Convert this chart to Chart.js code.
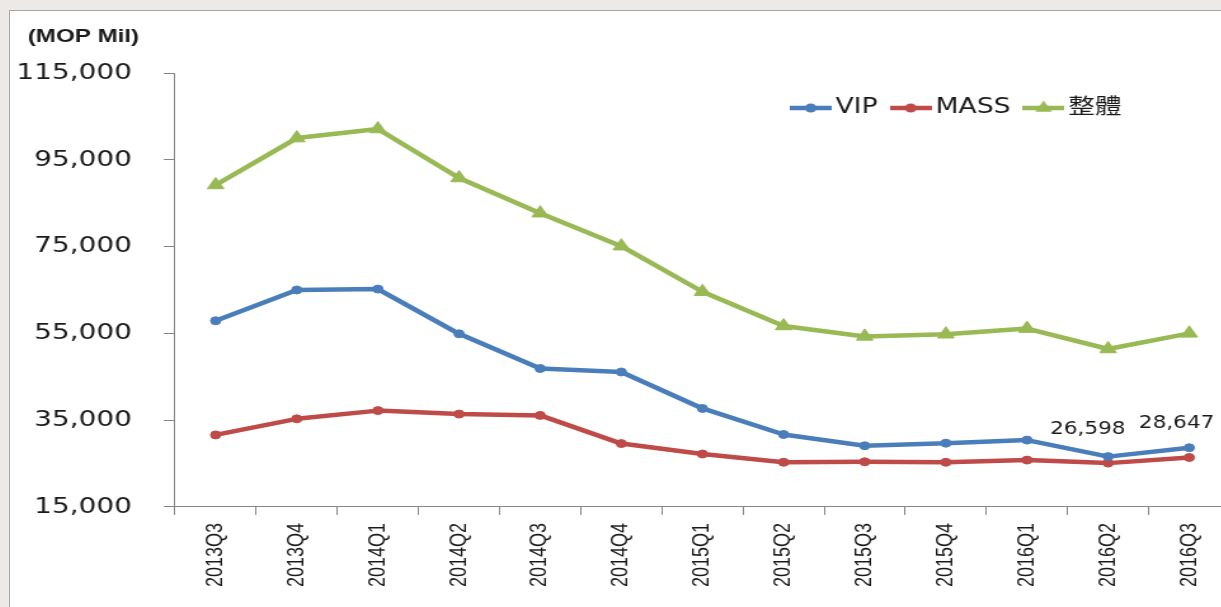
<!DOCTYPE html>
<html>
<head>
<meta charset="utf-8">
<title>GGR VIP / MASS</title>
<script src="https://cdn.jsdelivr.net/npm/chart.js@4/dist/chart.umd.min.js"></script>
<style>
  html, body { margin: 0; padding: 0; }
  body {
    width: 1221px;
    height: 607px;
    overflow: hidden;
    background: #ece9e6;
    position: relative;
  }
  #frame {
    position: absolute;
    left: 9px;
    top: 10px;
    right: 0;
    bottom: 0;
    background: #fff;
    border-left: 1px solid #a6a6a6;
    border-top: 1px solid #a6a6a6;
    overflow: hidden;
  }
  /* the sheet chart is stretched horizontally */
  #stretch {
    width: 969px;
    height: 596px;
    transform: scaleX(1.27);
    transform-origin: 0 0;
  }
</style>
</head>
<body>
<div id="frame">
  <div id="stretch">
    <canvas id="ggrChart" width="969" height="596"></canvas>
  </div>
</div>

<script>
const quarters = ['2013Q3', '2013Q4', '2014Q1', '2014Q2', '2014Q3', '2014Q4', '2015Q1',
                  '2015Q2', '2015Q3', '2015Q4', '2016Q1', '2016Q2', '2016Q3'];
const vipValues = [57900, 65000, 65200, 54900, 46900, 46100, 37700, 31700, 29100, 29700, 30400, 26598, 28647];
const massValues = [31600, 35300, 37200, 36400, 36100, 29600, 27200, 25300, 25400, 25300, 25800, 25100, 26400];
const totalValues = [89200, 100000, 102100, 90800, 82700, 75100, 64600, 56700, 54300, 54800, 56100, 51400, 55000];
const yTickValues = [15000, 35000, 55000, 75000, 95000, 115000];
const seriesNames = ['VIP', 'MASS', '整體'];
const labelledVipQuarters = ['2016Q2', '2016Q3'];

const BLUE = '#4a7ebb';
const RED = '#be4b48';
const GREEN = '#98b954';
const TEXT = '#1a1a1a';
const AXIS = '#868686';
const SANS = "'DejaVu Sans', 'Noto Sans CJK TC', sans-serif";

// small line + marker swatch for the legend
function legendIcon(color, shape) {
  const c = document.createElement('canvas');
  c.width = 33;
  c.height = 18;
  const g = c.getContext('2d');
  g.strokeStyle = color;
  g.fillStyle = color;
  g.lineWidth = 4.5;
  g.beginPath();
  g.moveTo(0, 9);
  g.lineTo(33, 9);
  g.stroke();
  g.beginPath();
  if (shape === 'triangle') {
    g.moveTo(16.5, 1.5);
    g.lineTo(23, 12.75);
    g.lineTo(10, 12.75);
    g.closePath();
  } else {
    g.arc(16.5, 9, 4.5, 0, Math.PI * 2);
  }
  g.fill();
  return c;
}
const legendIcons = [legendIcon(BLUE, 'circle'), legendIcon(RED, 'circle'), legendIcon(GREEN, 'triangle')];

// title sits top-left, legend floats inside the plot
const placeBoxes = {
  id: 'placeBoxes',
  afterLayout(chart) {
    const t = chart.titleBlock;
    t.left = 14;
    t.top = 19;
    t.bottom = t.top + t.height;
    const lg = chart.legend;
    lg.left = 604.5;
    lg.top = 69.5;
    lg.right = lg.left + lg.width;
    lg.bottom = lg.top + lg.height;
  }
};

// value labels on the last VIP points, nudged up and left of the marker
const labelNudge = { '2016Q2': [-16, -27], '2016Q3': [-10, -24] };
const vipValueLabels = {
  id: 'vipValueLabels',
  afterDatasetsDraw(chart) {
    const meta = chart.getDatasetMeta(0);
    const ctx = chart.ctx;
    ctx.save();
    ctx.font = '17px ' + SANS;
    ctx.fillStyle = TEXT;
    ctx.textAlign = 'center';
    ctx.textBaseline = 'middle';
    labelledVipQuarters.forEach(q => {
      const i = quarters.indexOf(q);
      const pt = meta.data[i];
      const [dx, dy] = labelNudge[q];
      ctx.fillText(vipValues[i].toLocaleString('en-US'), pt.x + dx, pt.y + dy);
    });
    ctx.restore();
  }
};

function lineSet(label, data, color, style, radius) {
  return {
    label: label,
    data: data,
    borderColor: color,
    backgroundColor: color,
    borderWidth: 4.5,
    tension: 0,
    borderJoinStyle: 'round',
    pointStyle: style,
    pointRadius: radius,
    pointHoverRadius: radius,
    pointBackgroundColor: color,
    pointBorderColor: color,
    pointBorderWidth: 1
  };
}

const ctx = document.getElementById('ggrChart').getContext('2d');
const ggrChart = new Chart(ctx, {
  type: 'line',
  data: {
    labels: quarters,
    datasets: [
      lineSet(seriesNames[0], vipValues, BLUE, 'circle', 4),
      lineSet(seriesNames[1], massValues, RED, 'circle', 4),
      lineSet(seriesNames[2], totalValues, GREEN, 'triangle', 7.5)
    ]
  },
  options: {
    responsive: false,
    animation: false,
    // tick padding is counted twice in the axis boxes, so pull the edges back
    layout: { padding: { left: -20, right: 0, top: 0, bottom: 12 } },
    plugins: {
      title: {
        display: true,
        text: '(MOP Mil)',
        align: 'start',
        color: TEXT,
        padding: 0,
        font: { family: "'Liberation Sans', sans-serif", size: 19, weight: 'bold', lineHeight: '14px' }
      },
      legend: {
        position: 'top',
        align: 'start',
        labels: {
          usePointStyle: true,
          pointStyleWidth: 18,
          padding: 17,
          color: TEXT,
          font: { family: SANS, size: 21 },
          generateLabels(chart) {
            const items = Chart.defaults.plugins.legend.labels.generateLabels(chart);
            items.forEach((it, i) => { it.pointStyle = legendIcons[i]; });
            return items;
          }
        }
      },
      tooltip: { enabled: false }
    },
    scales: {
      x: {
        type: 'category',
        offset: true,
        grid: { offset: true, drawOnChartArea: false, drawTicks: true, tickLength: 8, color: AXIS },
        border: { display: true, color: AXIS, width: 1 },
        ticks: {
          autoSkip: false,
          minRotation: 90,
          maxRotation: 90,
          padding: 8,
          color: TEXT,
          font: { family: "'Liberation Sans', sans-serif", size: 18 }
        }
      },
      y: {
        min: 15000,
        max: 115000,
        afterBuildTicks(axis) {
          axis.ticks = yTickValues.map(v => ({ value: v }));
        },
        grid: { drawOnChartArea: false, drawTicks: true, tickLength: 9, color: AXIS },
        border: { display: true, color: AXIS, width: 1 },
        ticks: {
          padding: 25,
          color: TEXT,
          font: { family: SANS, size: 22 },
          callback: v => v.toLocaleString('en-US')
        }
      }
    }
  },
  plugins: [placeBoxes, vipValueLabels]
});
</script>
</body>
</html>
